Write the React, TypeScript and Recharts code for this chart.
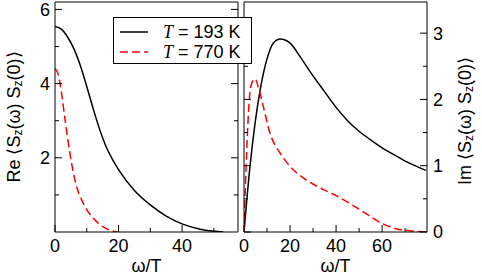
import { LineChart, Line, XAxis, YAxis } from "recharts";

// real part, omega/T and value
const reOmegaLow = [0, 2, 4, 6, 8, 10, 12, 14, 16, 18, 20, 25, 30, 35, 40, 45, 50, 53];
const reLow = [5.54, 5.47, 5.25, 4.93, 4.48, 3.92, 3.33, 2.78, 2.32, 1.97, 1.68, 1.12, 0.73, 0.43, 0.22, 0.09, 0.02, 0];
const reOmegaHigh = [0, 0.8, 1.6, 3.2, 4.7, 6.3, 8.9, 12.1, 15.3, 19.5];
const reHigh = [4.4, 4.3, 4.0, 3.01, 2.12, 1.39, 0.77, 0.37, 0.13, 0];

// imaginary part
const imOmegaLow = [0, 2.6, 4.8, 7, 9.9, 12.8, 15.7, 20, 24.3, 28.7, 34.5, 40, 45, 50, 55, 60, 65, 70, 75, 79];
const imLow = [0, 0.99, 1.64, 2.14, 2.6, 2.85, 2.91, 2.85, 2.65, 2.42, 2.14, 1.88, 1.68, 1.52, 1.39, 1.27, 1.17, 1.07, 0.99, 0.93];
const imOmegaHigh = [0, 1.2, 2.3, 3.3, 4.8, 6.2, 8.4, 11.3, 15.7, 21.4, 27.3, 34.5, 40, 45, 52, 60, 66, 72, 79];
const imHigh = [0, 1.24, 2.0, 2.24, 2.31, 2.19, 1.89, 1.49, 1.19, 0.94, 0.78, 0.64, 0.55, 0.45, 0.3, 0.13, 0.05, 0.02, 0];

const reXTicks = [0, 10, 20, 30, 40, 50];
const reXLabels = [0, 20, 40];
const reYTicks = [1, 2, 3, 4, 5, 6];
const reYLabels = [2, 4, 6];
const imXTicks = [0, 10, 20, 30, 40, 50, 60, 70];
const imXLabels = [0, 20, 40, 60];
const imYTicks = [0, 0.5, 1, 1.5, 2, 2.5, 3];
const imYLabels = [0, 1, 2, 3];

const series = [
  { name: "193 K", color: "#000000", dash: undefined },
  { name: "770 K", color: "#ff0000", dash: "8 4" },
];

const toPoints = (xs: number[], ys: number[]) => xs.map((w, i) => ({ w, v: ys[i] }));

const FONT = '"Liberation Sans", Arial, Helvetica, sans-serif';

function xTick(labels: number[], top = false) {
  return (props: any) => {
    const { x, y, payload } = props;
    const v = payload.value;
    const major = labels.includes(v);
    const len = major ? 7 : 4;
    if (top) return <line x1={x} x2={x} y1={y} y2={y + len} stroke="#000" />;
    return (
      <g>
        <line x1={x} x2={x} y1={y} y2={y - len} stroke="#000" />
        {major && (
          <text x={x} y={y + 20} textAnchor="middle" fontSize={18} fontFamily={FONT} fill="#000">
            {v}
          </text>
        )}
      </g>
    );
  };
}

function yTick(labels: number[], side: "left" | "right", showLabels: boolean) {
  return (props: any) => {
    const { x, y, payload } = props;
    const v = payload.value;
    const major = labels.includes(v);
    const len = major ? 7 : 4;
    const dir = side === "left" ? 1 : -1;
    return (
      <g>
        <line x1={x} x2={x + dir * len} y1={y} y2={y} stroke="#000" />
        {showLabels && major && (
          <text
            x={side === "left" ? x - 5 : x + 6}
            y={y}
            dy="0.36em"
            textAnchor={side === "left" ? "end" : "start"}
            fontSize={18}
            fontFamily={FONT}
            fill="#000"
          >
            {v}
          </text>
        )}
      </g>
    );
  };
}

function yTitle(prefix: string, dx: number, dyc: number) {
  return (props: any) => {
    const vb = props.viewBox;
    const cx = vb.x + dx;
    const cy = vb.y + vb.height / 2 + dyc;
    return (
      <text
        x={cx}
        y={cy}
        transform={`rotate(-90 ${cx} ${cy})`}
        textAnchor="middle"
        dominantBaseline="central"
        fontSize={18}
        fontFamily={FONT}
        fill="#000"
      >
        {prefix} ⟨S<tspan dy={4} fontSize={12}>z</tspan>
        <tspan dy={-4}>(ω) S</tspan>
        <tspan dy={4} fontSize={12}>z</tspan>
        <tspan dy={-4}>(0)⟩</tspan>
      </text>
    );
  };
}

const xTitle = (props: any) => {
  const vb = props.viewBox;
  return (
    <text x={vb.x + vb.width / 2} y={vb.y + 40} textAnchor="middle" fontSize={18} fontFamily={FONT} fill="#000">
      ω/T
    </text>
  );
};

const axisLine = { stroke: "#000", strokeWidth: 1 };

function Panel(props: {
  width: number;
  margin: any;
  xDomain: [number, number];
  yDomain: [number, number];
  xTicks: number[];
  xLabels: number[];
  yTicks: number[];
  yLabels: number[];
  labelSide: "left" | "right";
  title: string;
  lines: { w: number; v: number }[][];
}) {
  const { labelSide } = props;
  const other = labelSide === "left" ? "right" : "left";
  return (
    <LineChart width={props.width} height={276} margin={props.margin}>
      <XAxis
        dataKey="w"
        type="number"
        xAxisId="b"
        domain={props.xDomain}
        allowDataOverflow
        ticks={props.xTicks}
        interval={0}
        height={1}
        tickSize={0}
        tickMargin={0}
        tickLine={false}
        axisLine={axisLine}
        tick={xTick(props.xLabels)}
        label={{ content: xTitle }}
      />
      <XAxis
        type="number"
        xAxisId="t"
        orientation="top"
        domain={props.xDomain}
        allowDataOverflow
        ticks={props.xTicks}
        interval={0}
        height={1}
        tickSize={0}
        tickMargin={0}
        tickLine={false}
        axisLine={axisLine}
        tick={xTick(props.xLabels, true)}
      />
      <YAxis
        type="number"
        yAxisId="m"
        orientation={labelSide}
        domain={props.yDomain}
        allowDataOverflow
        ticks={props.yTicks}
        interval={0}
        width={1}
        tickSize={0}
        tickMargin={0}
        tickLine={false}
        axisLine={axisLine}
        tick={yTick(props.yLabels, labelSide, true)}
        label={{ content: yTitle(props.title, labelSide === "left" ? -40 : 38, labelSide === "left" ? 0 : 4) }}
      />
      <YAxis
        type="number"
        yAxisId="o"
        orientation={other}
        domain={props.yDomain}
        allowDataOverflow
        ticks={props.yTicks}
        interval={0}
        width={1}
        tickSize={0}
        tickMargin={0}
        tickLine={false}
        axisLine={axisLine}
        tick={yTick(props.yLabels, other, false)}
      />
      {series.map((s, i) => (
        <Line
          key={s.name}
          name={s.name}
          data={props.lines[i]}
          dataKey="v"
          xAxisId="b"
          yAxisId="m"
          type="monotone"
          stroke={s.color}
          strokeWidth={1.5}
          strokeDasharray={s.dash}
          dot={false}
          activeDot={false}
          isAnimationActive={false}
        />
      ))}
    </LineChart>
  );
}

function LegendBox() {
  return (
    <div
      style={{
        position: "absolute",
        left: 113,
        top: 17,
        width: 139,
        height: 47,
        boxSizing: "border-box",
        border: "1px solid #000",
        background: "#fff",
        zIndex: 10,
      }}
    >
      <svg width={137} height={45} style={{ display: "block" }}>
        {series.map((s, i) => {
          const cy = 14 + i * 20;
          return (
            <g key={s.name}>
              <line x1={6} x2={34} y1={cy} y2={cy} stroke={s.color} strokeWidth={1.5} strokeDasharray={s.dash} />
              <text x={49} y={cy} dy="0.36em" fontSize={18} fontFamily={FONT} fill="#000">
                <tspan fontFamily='"Liberation Serif", "Times New Roman", serif' fontStyle="italic">
                  T
                </tspan>
                {" = " + s.name}
              </text>
            </g>
          );
        })}
      </svg>
    </div>
  );
}

export default function App() {
  return (
    <div style={{ position: "fixed", left: 0, top: 0, width: 482, height: 276, background: "#fff" }}>
      <div style={{ position: "absolute", left: 0, top: 0 }}>
        <Panel
          width={241}
          margin={{ top: 1, right: 2, bottom: 43, left: 54 }}
          xDomain={[0, 57.6]}
          yDomain={[0, 6.2]}
          xTicks={reXTicks}
          xLabels={reXLabels}
          yTicks={reYTicks}
          yLabels={reYLabels}
          labelSide="left"
          title="Re"
          lines={[toPoints(reOmegaLow, reLow), toPoints(reOmegaHigh, reHigh)]}
        />
      </div>
      <div style={{ position: "absolute", left: 232, top: 0 }}>
        <Panel
          width={250}
          margin={{ top: 1, right: 54, bottom: 43, left: 11 }}
          xDomain={[0, 79.5]}
          yDomain={[0, 3.47]}
          xTicks={imXTicks}
          xLabels={imXLabels}
          yTicks={imYTicks}
          yLabels={imYLabels}
          labelSide="right"
          title="Im"
          lines={[toPoints(imOmegaLow, imLow), toPoints(imOmegaHigh, imHigh)]}
        />
      </div>
      <LegendBox />
    </div>
  );
}
